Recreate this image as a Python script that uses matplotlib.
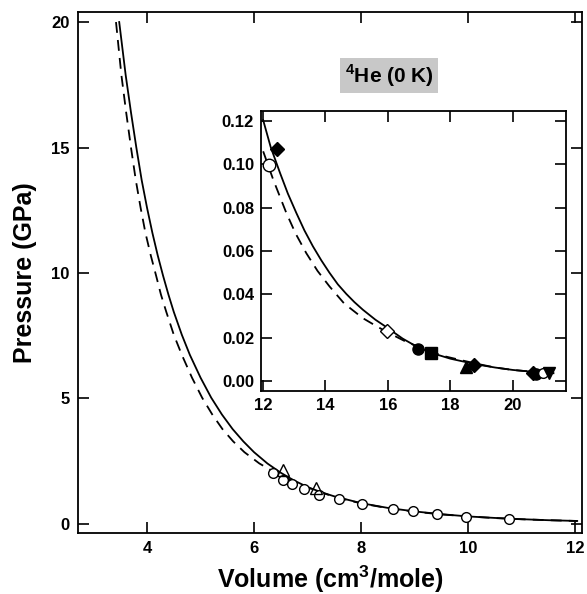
import matplotlib
matplotlib.use('Agg')
import matplotlib.pyplot as plt

plt.rcParams['font.family'] = ['Liberation Sans', 'DejaVu Sans']
plt.rcParams['font.weight'] = 'bold'
plt.rcParams['mathtext.fontset'] = 'custom'
plt.rcParams['mathtext.rm'] = 'Liberation Sans:bold'
plt.rcParams['mathtext.bf'] = 'Liberation Sans:bold'

# main panel: equation of state curves (cm^3/mole, GPa)
solid_v = [3.48, 3.60, 3.70, 3.80, 3.90, 4.00, 4.10, 4.20, 4.30, 4.40, 4.50, 4.65,
           4.80, 5.00, 5.20, 5.40, 5.60, 5.80, 6.00, 6.25, 6.50, 6.75, 7.00, 7.25,
           7.50, 8.00, 8.50, 9.00, 9.50, 10.00, 10.50, 11.00, 11.50, 12.04]
solid_p = [20.0, 17.9, 16.4, 15.0, 13.7, 12.6, 11.6, 10.7, 9.89, 9.14, 8.45, 7.54,
           6.74, 5.83, 5.03, 4.36, 3.78, 3.29, 2.86, 2.41, 2.04, 1.73, 1.47, 1.27,
           1.10, 0.83, 0.64, 0.50, 0.39, 0.30, 0.24, 0.19, 0.15, 0.12]
dash_v = [3.42, 3.52, 3.61, 3.70, 3.79, 3.88, 3.97, 4.07, 4.17, 4.26, 4.36, 4.50,
          4.65, 4.84, 5.03, 5.22, 5.41, 5.61, 5.82, 6.10, 6.40, 6.70, 6.98, 7.24,
          7.50, 8.00, 8.50, 9.00, 9.50, 10.00, 10.50, 11.00, 11.50, 12.04]
dash_p = [20.0, 17.9, 16.4, 15.0, 13.7, 12.6, 11.6, 10.7, 9.89, 9.14, 8.45, 7.54,
          6.74, 5.83, 5.03, 4.36, 3.78, 3.29, 2.86, 2.41, 2.04, 1.73, 1.47, 1.27,
          1.08, 0.82, 0.63, 0.49, 0.38, 0.30, 0.235, 0.187, 0.15, 0.118]

circ_v = [6.36, 6.54, 6.71, 6.93, 7.21, 7.59, 8.02, 8.60, 8.97, 9.42, 9.96, 10.77]
circ_p = [2.03, 1.75, 1.59, 1.39, 1.16, 1.00, 0.80, 0.60, 0.52, 0.40, 0.28, 0.20]
tri_v = [6.54, 7.16]
tri_p = [2.15, 1.43]

# inset: low pressure region
in_solid_v = [12.01, 12.25, 12.55, 12.80, 13.07, 13.33, 13.60, 13.87, 14.13, 14.40,
              14.67, 14.93, 15.20, 15.60, 15.97, 16.47, 16.97, 17.50, 18.00, 18.38,
              18.90, 19.44, 20.00, 20.60, 21.30]
in_solid_p = [0.1204, 0.108, 0.096, 0.0865, 0.0776, 0.0695, 0.0622, 0.0557, 0.0500, 0.0446,
              0.0402, 0.0364, 0.0329, 0.0283, 0.0247, 0.0196, 0.0155, 0.0125, 0.0103, 0.0091,
              0.0075, 0.0062, 0.0051, 0.0043, 0.0036]
in_dash_v = [12.01, 12.33, 12.75, 13.05, 13.39, 13.75, 14.13, 14.60, 15.20, 15.60,
             15.97, 16.60, 17.32, 17.85, 18.38, 18.90, 19.44, 20.00, 20.60, 21.30]
in_dash_p = [0.106, 0.093, 0.0776, 0.068, 0.059, 0.0508, 0.0437, 0.0358, 0.0290, 0.0256,
             0.0226, 0.0180, 0.0138, 0.0113, 0.0095, 0.0078, 0.0062, 0.0051, 0.0043, 0.0036]

fig = plt.figure(figsize=(5.87, 5.94), dpi=100)
ax = fig.add_axes([0.1329, 0.1027, 0.8586, 0.8771])

ax.plot(solid_v, solid_p, color='black', lw=1.3)
ax.plot(dash_v, dash_p, color='black', lw=1.3, ls=(0, (6, 4)))
ax.plot(circ_v, circ_p, 'o', mfc='white', mec='black', ms=7, mew=1.0)
ax.plot(tri_v, tri_p, '^', mfc='none', mec='black', ms=8, mew=1.0)

ax.set_xlim(2.71, 12.13)
ax.set_ylim(-0.36, 20.4)
ax.set_xticks([4, 6, 8, 10, 12])
ax.set_yticks([0, 5, 10, 15, 20])
ax.tick_params(direction='in', length=8, width=1.2, top=True, right=True,
               labelsize=12, pad=6)
for s in ax.spines.values():
    s.set_linewidth(1.3)
ax.set_xlabel('Volume (cm$^{3}$/mole)', fontsize=18, fontweight='bold')
ax.xaxis.set_label_coords(0.5, -0.058)
ax.set_ylabel('Pressure (GPa)', fontsize=18, fontweight='bold', labelpad=10)

ins = fig.add_axes([0.4446, 0.3418, 0.5196, 0.4713])
ins.plot(in_solid_v, in_solid_p, color='black', lw=1.3)
ins.plot(in_dash_v, in_dash_p, color='black', lw=1.3, ls=(0, (6, 4)))

ins.plot([12.19], [0.0997], 'o', mfc='white', mec='black', ms=9, mew=1.0)
ins.plot([12.44, 18.77, 20.64], [0.107, 0.0074, 0.0036], 'D', color='black', ms=7)
ins.plot([15.97], [0.023], 'D', mfc='white', mec='black', ms=7, mew=1.0)
ins.plot([16.97, 20.74], [0.0147, 0.0032], 'o', color='black', ms=8)
ins.plot([17.37], [0.0131], 's', color='black', ms=8)
ins.plot([18.51], [0.0066], '^', color='black', ms=8)
ins.plot([20.95], [0.0036], 'o', mfc='white', mec='black', ms=7, mew=1.0)
ins.plot([21.15], [0.0036], 'v', color='black', ms=8)

ins.set_xlim(11.94, 21.7)
ins.set_ylim(-0.0046, 0.1246)
ins.set_xticks([12, 14, 16, 18, 20])
ins.set_yticks([0.0, 0.02, 0.04, 0.06, 0.08, 0.10, 0.12])
ins.set_yticklabels(['0.00', '0.02', '0.04', '0.06', '0.08', '0.10', '0.12'])
ins.tick_params(direction='in', length=8, width=1.2, top=True, right=True,
                labelsize=12, pad=5)
for s in ins.spines.values():
    s.set_linewidth(1.3)

fig.text(0.6627, 0.873, '$^{4}$He (0 K)', ha='center', va='center',
         fontsize=15, fontweight='bold',
         bbox=dict(facecolor='#c8c8c8', edgecolor='none', pad=3))

fig.savefig('out.png', dpi=100)
